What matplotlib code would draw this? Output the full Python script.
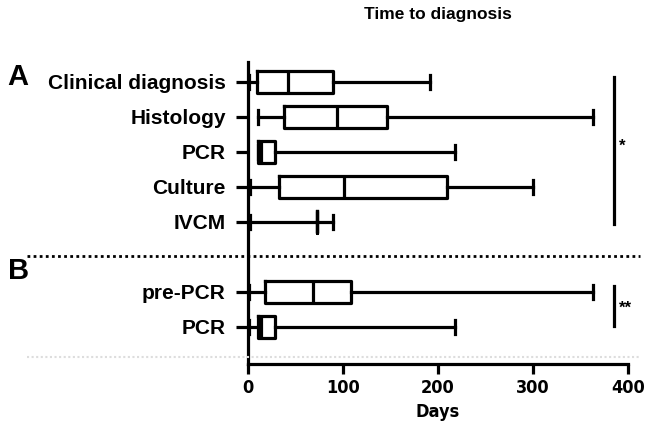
import numpy as np
import matplotlib
matplotlib.use("Agg")
import matplotlib.pyplot as plt
import matplotlib.transforms as mtransforms
from matplotlib.lines import Line2D
from matplotlib import font_manager

plt.rcParams['font.family'] = ['Liberation Sans', 'DejaVu Sans']

# --- data (days) ---
labels = ["Clinical diagnosis", "Histology", "PCR", "Culture", "IVCM", "pre-PCR", "PCR"]
positions = [0, 1, 2, 3, 4, 6, 7]
whislo = [1, 10, 10, 2, 2, 1, 1]
q1 = [9, 38, 10, 33, 73, 18, 10]
med = [42, 94, 14, 101, 73, 68, 14]
q3 = [89, 146, 28, 210, 73, 108, 28]
whishi = [192, 363, 218, 300, 89, 363, 218]

xticks = [0, 100, 200, 300, 400]

stats = []
for i in range(len(labels)):
    stats.append(dict(label=labels[i], whislo=whislo[i], q1=q1[i], med=med[i],
                      q3=q3[i], whishi=whishi[i], fliers=[]))

# condensed bold font for the x axis
narrow = font_manager.FontProperties(family=['DejaVu Sans'], weight='bold',
                                     stretch='condensed', size=13)

fig = plt.figure(figsize=(6.45, 4.29), dpi=100)
ax = fig.add_axes([0.3845, 0.1515, 0.5891, 0.704])

lw = 2.3
line = dict(color='black', linewidth=lw)
ax.bxp(stats, positions=positions, vert=False, widths=0.63, showfliers=False,
       boxprops=line, whiskerprops=line, capprops=line, medianprops=line,
       capwidths=0.4)

ax.set_xlim(0, 400)
ax.set_ylim(8.06, -0.57)
ax.set_xticks(xticks)
ax.set_xticklabels([str(t) for t in xticks], fontproperties=narrow)
ax.set_yticks(positions)
ax.set_yticklabels(labels, fontweight='bold', fontsize=15)
ax.tick_params(axis='y', length=9, width=lw, pad=7)
ax.tick_params(axis='x', length=7, width=lw, pad=4)

for s in ['top', 'right']:
    ax.spines[s].set_visible(False)
for s in ['left', 'bottom']:
    ax.spines[s].set_linewidth(lw)

ax.set_xlabel("Days", fontproperties=narrow, labelpad=4)
ax.set_title("Time to diagnosis", fontweight='bold', fontsize=12.5, pad=31)

# separators
trans = mtransforms.blended_transform_factory(fig.transFigure, ax.transData)
fig.add_artist(Line2D([27 / 645, 640 / 645], [4.97, 4.97], transform=trans,
                      color='black', linestyle=(0, (1, 1.2)), linewidth=2))
fig.add_artist(Line2D([27 / 645, 640 / 645], [7.86, 7.86], transform=trans,
                      color='#dddddd', linestyle=(0, (1, 1.2)), linewidth=1.5))

# panel letters
fig.text(0.012, 1 - 77 / 429, "A", fontsize=21, fontweight='bold', va='center')
fig.text(0.012, 1 - 271 / 429, "B", fontsize=21, fontweight='bold', va='center')

# significance bars
ax.plot([385, 385], [-0.14, 4.06], color='black', linewidth=lw, clip_on=False)
ax.text(390, 1.85, "*", fontsize=12, fontweight='bold', va='center', ha='left')
ax.plot([385, 385], [5.83, 6.97], color='black', linewidth=lw, clip_on=False)
ax.text(390, 6.48, "**", fontsize=12, fontweight='bold', va='center', ha='left')

fig.savefig("out.png", dpi=100)
